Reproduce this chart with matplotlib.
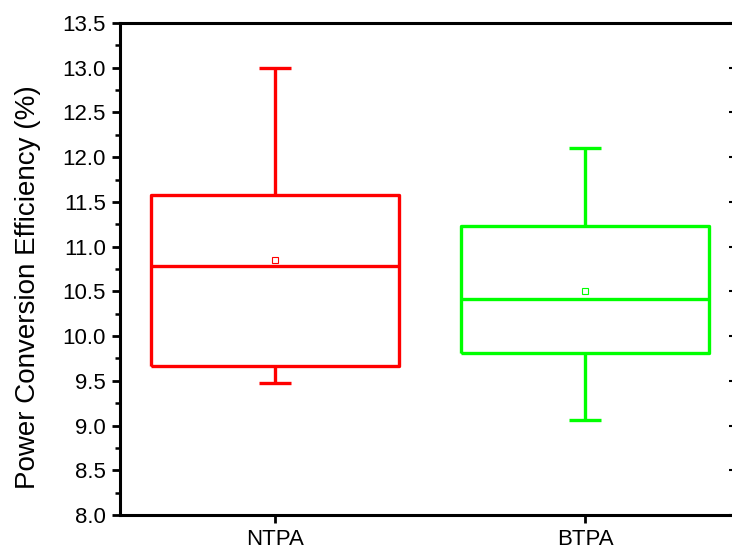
import matplotlib
matplotlib.use("Agg")
import matplotlib.pyplot as plt
from matplotlib.ticker import MultipleLocator

plt.rcParams["font.family"] = ["Liberation Sans", "DejaVu Sans"]

labels = ["NTPA", "BTPA"]
whisker_low = [9.48, 9.06]
q1 = [9.67, 9.81]
median = [10.78, 10.42]
q3 = [11.58, 11.23]
whisker_high = [13.0, 12.10]
mean = [10.85, 10.50]
colors = ["#FF0000", "#00FF00"]

fig = plt.figure(figsize=(7.32, 5.54), dpi=100)
# right spine sits just past the image edge, as in the original
ax = fig.add_axes([120 / 732, 39 / 554, 620 / 732, 492 / 554])

positions = [1, 2]
for i, pos in enumerate(positions):
    stats = [{
        "med": median[i],
        "q1": q1[i],
        "q3": q3[i],
        "whislo": whisker_low[i],
        "whishi": whisker_high[i],
        "mean": mean[i],
        "fliers": [],
    }]
    c = colors[i]
    line = {"color": c, "linewidth": 2.4, "solid_capstyle": "butt"}
    ax.bxp(
        stats,
        positions=[pos],
        widths=0.8,
        capwidths=0.105,
        showmeans=True,
        showfliers=False,
        boxprops=line,
        whiskerprops=line,
        capprops=line,
        medianprops=line,
        meanprops={"marker": "s", "markersize": 4, "markerfacecolor": "none",
                   "markeredgecolor": c, "markeredgewidth": 0.8},
        manage_ticks=False,
    )

ax.set_xlim(0.5, 2.5)
ax.set_ylim(8.0, 13.5)
ax.set_xticks(positions)
ax.set_xticklabels(labels)
ax.yaxis.set_major_locator(MultipleLocator(0.5))
ax.yaxis.set_minor_locator(MultipleLocator(0.25))
ax.yaxis.set_major_formatter(plt.FormatStrFormatter("%.1f"))

for spine in ax.spines.values():
    spine.set_linewidth(2.2)

ax.tick_params(axis="both", which="major", direction="out", length=6, width=2.0,
               labelsize=16, pad=4)
ax.tick_params(axis="y", which="minor", direction="out", length=3.5, width=1.8)

# inward ticks on the right axis
sec = ax.secondary_yaxis("right")
sec.yaxis.set_major_locator(MultipleLocator(0.5))
sec.yaxis.set_minor_locator(MultipleLocator(0.25))
sec.tick_params(which="major", direction="in", length=8, width=1.5, labelright=False)
sec.tick_params(which="minor", direction="in", length=6, width=1.2)

ax.set_ylabel("Power Conversion Efficiency (%)", fontsize=20)
ax.yaxis.set_label_coords(-0.128, 0.463)

fig.savefig("out.png", dpi=100)
